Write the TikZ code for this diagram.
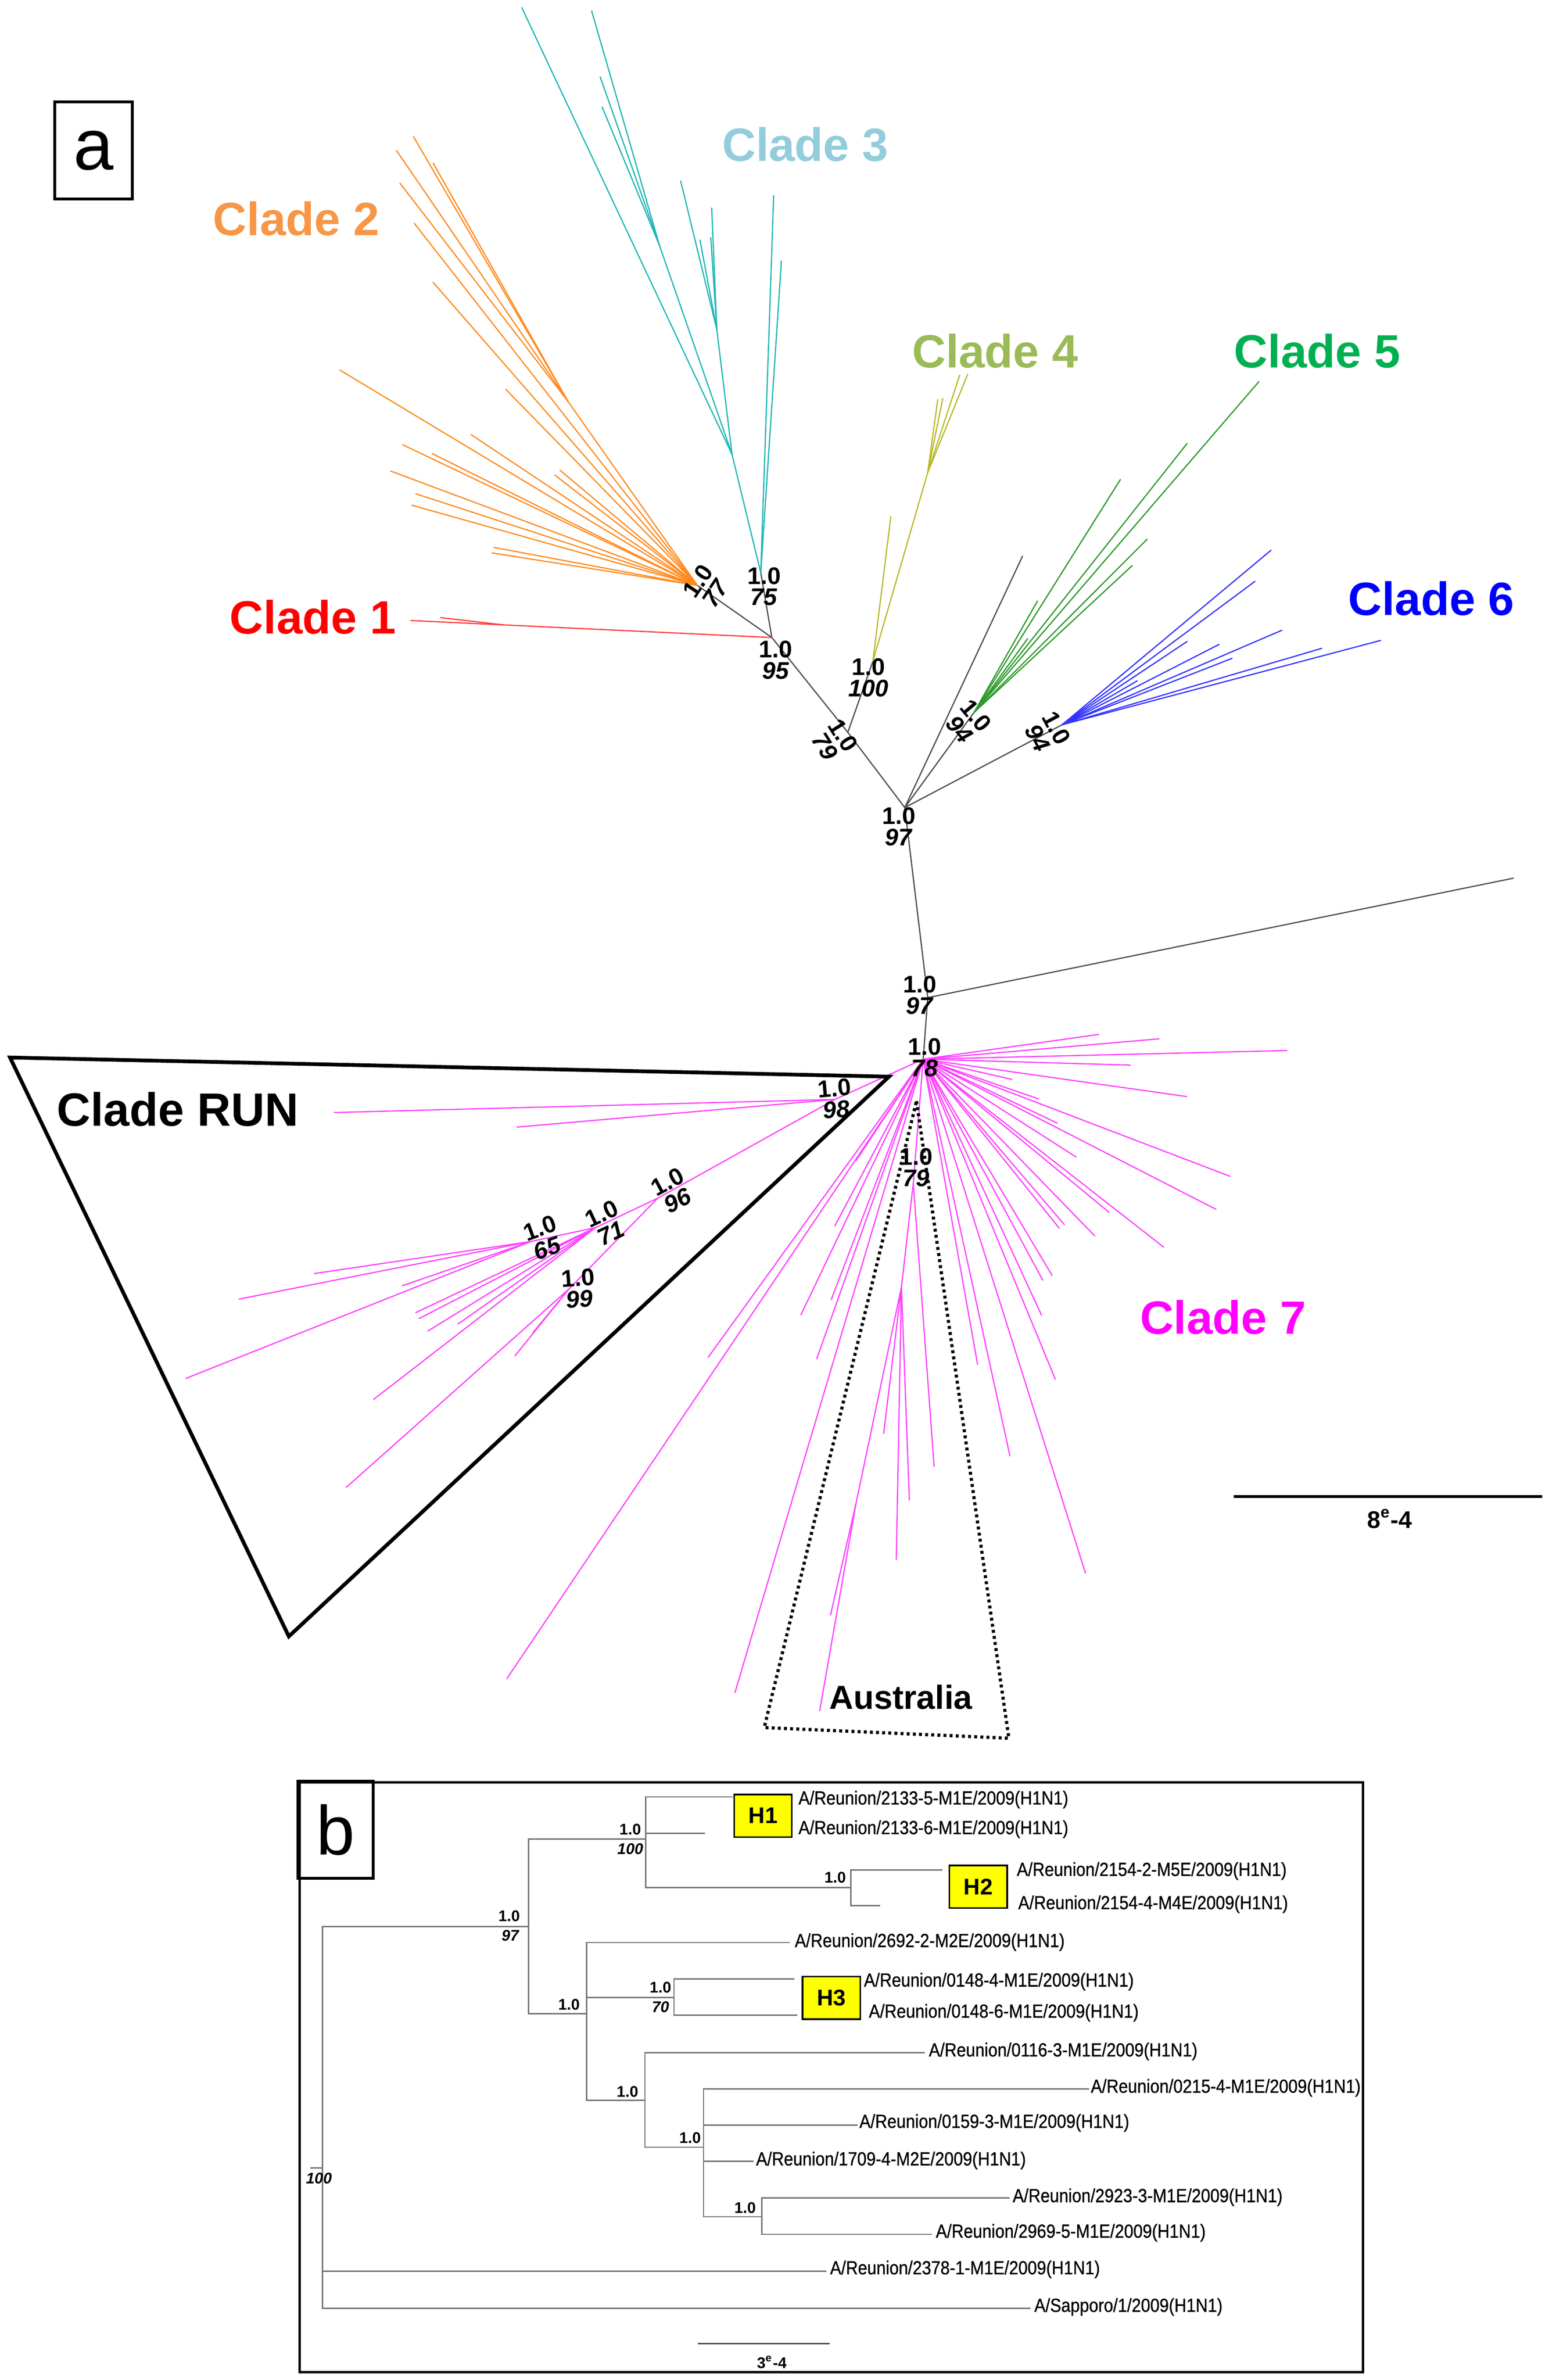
\documentclass[tikz,border=0pt]{standalone}
\usepackage{fontspec}
\setmainfont{Liberation Sans}
\newfontfamily\narrowsf[FakeStretch=0.88, FakeBold=0.8]{Liberation Sans}
\usepackage{xcolor}
\usepackage{tikz}
\usetikzlibrary{positioning, calc}

\definecolor{cladeone}{HTML}{FF0000}
\definecolor{lineone}{HTML}{FF3C3C}
\definecolor{cladetwo}{HTML}{F79646}
\definecolor{linetwo}{HTML}{FF8A1E}
\definecolor{cladethree}{HTML}{92CDDC}
\definecolor{linethree}{HTML}{1FB6B6}
\definecolor{cladefour}{HTML}{9BBB59}
\definecolor{linefour}{HTML}{B8B82A}
\definecolor{cladefive}{HTML}{00B050}
\definecolor{linefive}{HTML}{2A9A2A}
\definecolor{cladesix}{HTML}{0000FF}
\definecolor{linesix}{HTML}{3434FF}
\definecolor{cladeseven}{HTML}{FF00FF}
\definecolor{lineseven}{HTML}{FF40FF}
\definecolor{hapyellow}{HTML}{FFFF00}

\begin{document}
\begin{tikzpicture}[x=0.2mm, y=-0.2mm,
    twig/.style={line width=0.45pt, line cap=round},
    greyline/.style={twig, draw=black!70},
    cladename/.style={font=\fontsize{17.5}{20}\selectfont\bfseries, inner sep=0pt},
    support/.style={font=\fontsize{9}{8}\selectfont\bfseries, align=center, inner sep=0pt},
    runbox/.style={line width=1.4pt, line join=miter},
    ausbox/.style={line width=1.2pt, dash pattern=on 1.1pt off 1.2pt},
    panelbox/.style={draw, line width=1pt, inner sep=0pt},
    bline/.style={line width=0.5pt, draw=black!55},
    taxon/.style={font=\narrowsf\fontsize{7.1}{8}\selectfont, anchor=west, inner sep=0pt},
    bsupport/.style={font=\fontsize{5.8}{6}\selectfont\bfseries, inner sep=0pt},
    hapbox/.style={draw, fill=hapyellow, line width=0.6pt, minimum width=7.6mm, minimum height=5.6mm, inner sep=0pt, font=\fontsize{8.5}{9}\selectfont\bfseries}]
\useasboundingbox (0,0) rectangle (1024,1566.4);

% panel a
\node[panelbox, minimum width=10.2mm, minimum height=12.8mm, font=\fontsize{27}{27}\selectfont] (panela) at (61.5,99) {a};

\coordinate (nc2) at (459,385.3);
\coordinate (nc3) at (500.7,377);
\coordinate (n95) at (508,419.6);
\coordinate (nt79) at (558,482);
\coordinate (nc4) at (574.5,435.2);
\coordinate (n97a) at (595.5,531.5);
\coordinate (nc5) at (641,469);
\coordinate (nc6) at (699,477);
\coordinate (n97b) at (610.6,656.6);
\coordinate (n78) at (607.6,697.1);
\coordinate (g1) at (673,366);
\coordinate (g2) at (996,578);

\draw[greyline] (nc2) -- (n95) -- (nt79) -- (n97a) -- (n97b) -- (n78);
\draw[greyline] (n95) -- (nc3);
\draw[greyline] (nt79) -- (nc4);
\draw[greyline] (n97a) -- (g1);
\draw[greyline] (n97a) -- (nc5);
\draw[greyline] (n97a) -- (nc6);
\draw[greyline] (n97b) -- (g2);

% clade 1
\coordinate (c1a) at (270.4,408.4);
\coordinate (c1m) at (331.6,411.3);
\coordinate (c1b) at (290,406.5);
\draw[twig, lineone] (n95) -- (c1a);
\draw[twig, lineone] (c1m) -- (c1b);

% clade 2
\coordinate (c2i) at (373.9,264.3);
\draw[twig, linetwo] (nc2) -- (c2i);
\foreach \tx/\ty [count=\i] in {272.1/89.9, 261/99.1, 285.1/107.4, 263.2/120.5}
  {\coordinate (c2u\i) at (\tx,\ty); \draw[twig, linetwo] (c2i) -- (c2u\i);}
\foreach \tx/\ty [count=\i] in {272.6/146.9, 285.1/185.9, 223.6/243.5, 332.9/256.3, 310/286, 265/292.7, 284.4/298.5, 257/310, 368.5/309.4, 365.2/312.7, 273.7/325, 271/332.5, 325.1/360.3, 323.8/363.9}
  {\coordinate (c2t\i) at (\tx,\ty); \draw[twig, linetwo] (nc2) -- (c2t\i);}

% clade 3
\coordinate (c3i) at (481.8,299.1);
\coordinate (c3j) at (434,161.4);
\coordinate (c3k) at (471.8,217);
\draw[twig, linethree] (nc3) -- (c3i) -- (343.4,5);
\draw[twig, linethree] (c3i) -- (c3j);
\draw[twig, linethree] (c3i) -- (c3k);
\foreach \tx/\ty [count=\i] in {389.4/7.2, 395/50.6, 396.3/70.4}
  {\coordinate (c3u\i) at (\tx,\ty); \draw[twig, linethree] (c3j) -- (c3u\i);}
\foreach \tx/\ty [count=\i] in {448/119.1, 460.7/158, 468.4/136.9, 467.8/156.4}
  {\coordinate (c3v\i) at (\tx,\ty); \draw[twig, linethree] (c3k) -- (c3v\i);}
\foreach \tx/\ty [count=\i] in {509.2/128.8, 514.3/171.7}
  {\coordinate (c3t\i) at (\tx,\ty); \draw[twig, linethree] (nc3) -- (c3t\i);}

% clade 4
\coordinate (c4i) at (610.6,311);
\draw[twig, linefour] (nc4) -- (c4i);
\draw[twig, linefour] (nc4) -- (586.3,340);
\foreach \tx/\ty [count=\i] in {636.9/246.3, 631.6/247, 620.5/262.2, 617.2/263}
  {\coordinate (c4t\i) at (\tx,\ty); \draw[twig, linefour] (c4i) -- (c4t\i);}

% clade 5
\foreach \tx/\ty [count=\i] in {828.6/251.1, 781.3/291.9, 737.4/315.6, 755.1/354.8, 745.2/372.2, 682.8/395.6, 676.3/420.4}
  {\coordinate (c5t\i) at (\tx,\ty); \draw[twig, linefive] (nc5) -- (c5t\i);}

% clade 6
\foreach \tx/\ty [count=\i] in {836.5/362.2, 826/382.6, 802.4/424.1, 843.7/414.8, 870/426.7, 908.7/421.5, 810.9/433.3, 748.5/448.1, 781.3/422.2}
  {\coordinate (c6t\i) at (\tx,\ty); \draw[twig, linesix] (nc6) -- (c6t\i);}

% clade 7
\foreach \tx/\ty [count=\i] in {723.1/680.8, 762.9/683.7, 847/691.4, 743.9/701, 666/710.4, 781/721.7, 683.4/723.2, 695.9/739.2, 809.6/774.2, 708.3/761.5, 800.3/795.9, 730.1/798, 765.9/820.8, 720.5/813.4, 700.5/806, 697.2/808.4, 692.5/839.5, 686.3/842.5, 685.5/865.6, 694.6/907.8, 714.4/1035.3, 664.7/958.2, 643.4/898, 563.4/763.9, 549.4/806.9, 527.1/865.4, 547.1/855.3, 537.5/894.4, 466.1/893.3, 333.6/1104.8, 483.7/1114}
  {\coordinate (c7t\i) at (\tx,\ty); \draw[twig, lineseven] (n78) -- (c7t\i);}

\coordinate (n79) at (601.1,778.7);
\coordinate (au1) at (593.3,847);
\coordinate (au2) at (563.4,989.4);
\draw[twig, lineseven] (n78) -- (n79) -- (au1) -- (au2) -- (539.5,1125.9);
\draw[twig, lineseven] (au2) -- (546.6,1063);
\draw[twig, lineseven] (n79) -- (614.8,965.1);
\foreach \tx/\ty [count=\i] in {581.6/943.4, 589.9/1026.5, 598.5/987.3}
  {\coordinate (aut\i) at (\tx,\ty); \draw[twig, lineseven] (au1) -- (aut\i);}

\coordinate (n98) at (549.5,723.6);
\coordinate (n96) at (432.9,788.6);
\coordinate (n71) at (391.9,808);
\coordinate (n65) at (349.3,817.1);
\coordinate (n99) at (374.5,848.3);
\draw[twig, lineseven] (n78) -- (n98) -- (n96) -- (n71) -- (n65);
\draw[twig, lineseven] (n96) -- (n99);
\foreach \tx/\ty [count=\i] in {220/732.2, 340.2/741.8}
  {\coordinate (r98t\i) at (\tx,\ty); \draw[twig, lineseven] (n98) -- (r98t\i);}
\foreach \tx/\ty [count=\i] in {273.6/863.9, 275.8/867.8, 281.5/876.1, 301.4/871.4, 245.9/921}
  {\coordinate (r71t\i) at (\tx,\ty); \draw[twig, lineseven] (n71) -- (r71t\i);}
\foreach \tx/\ty [count=\i] in {206.8/838.2, 157.3/855, 264.8/846.2, 122.3/907.2}
  {\coordinate (r65t\i) at (\tx,\ty); \draw[twig, lineseven] (n65) -- (r65t\i);}
\foreach \tx/\ty [count=\i] in {227.9/978.9, 338.9/892.4, 350.9/876.9}
  {\coordinate (r99t\i) at (\tx,\ty); \draw[twig, lineseven] (n99) -- (r99t\i);}

% outlines
\draw[runbox] (6.6,696) -- (585.1,708.6) -- (190.1,1077) -- cycle;
\draw[ausbox] (603.2,724.7) -- (664,1144) -- (503,1137) -- cycle;

% clade names
\node[cladename, text=cladeone] (lab1) at (206,406) {Clade 1};
\node[cladename, text=cladetwo] (lab2) at (195,144) {Clade 2};
\node[cladename, text=cladethree] (lab3) at (530,95) {Clade 3};
\node[cladename, text=cladefour] (lab4) at (655,231) {Clade 4};
\node[cladename, text=cladefive] (lab5) at (867,231) {Clade 5};
\node[cladename, text=cladesix] (lab6) at (942,394) {Clade 6};
\node[cladename, text=cladeseven] (lab7) at (805,867) {Clade 7};
\node[cladename] (labrun) at (117,730) {Clade RUN};
\node[font=\fontsize{12.5}{14}\selectfont\bfseries, inner sep=0pt] (labaus) at (593,1117) {Australia};

% supports
\node[support, rotate=56] (s77) at (465,386.3) {1.0\\\textit{77}};
\node[support] (s75) at (502.9,386) {1.0\\\textit{75}};
\node[support] (s95) at (510.5,434.5) {1.0\\\textit{95}};
\node[support] (s100) at (571.5,446) {1.0\\\textit{100}};
\node[support, rotate=-58] (s79a) at (548.9,487.6) {1.0\\\textit{79}};
\node[support, rotate=-50] (s94a) at (637,475.5) {1.0\\\textit{94}};
\node[support, rotate=-62] (s94b) at (689,482.3) {1.0\\\textit{94}};
\node[support] (s97a) at (591.5,544) {1.0\\\textit{97}};
\node[support] (s97b) at (605.5,655) {1.0\\\textit{97}};
\node[support] (s78) at (608.6,696) {1.0\\\textit{78}};
\node[support, rotate=5] (s98) at (549.8,723.2) {1.0\\\textit{98}};
\node[support] (s79b) at (602.8,768.3) {1.0\\\textit{79}};
\node[support, rotate=28] (s96) at (442.6,783.9) {1.0\\\textit{96}};
\node[support, rotate=25] (s71) at (399,805.1) {1.0\\\textit{71}};
\node[support, rotate=20] (s65) at (357.7,814.8) {1.0\\\textit{65}};
\node[support, rotate=4] (s99) at (381,848) {1.0\\\textit{99}};

% scale a
\coordinate (sa1) at (812,985);
\coordinate (sa2) at (1015,985);
\draw[line width=1.1pt] (sa1) -- (sa2);
\node[font=\fontsize{9}{10}\selectfont\bfseries, inner sep=0pt] (scalea) at (914.6,999.5) {8\textsuperscript{e}-4};

% panel b
\draw[line width=0.9pt] (197.3,1173.1) rectangle (897,1561.2);
\node[panelbox, line width=1.1pt, minimum width=9.9mm, minimum height=12.8mm, font=\fontsize{26}{26}\selectfont] (panelb) at (220.8,1204.2) {b};

\coordinate (broot) at (212.2,1426.8);
\coordinate (bA) at (348,1267.9);
\coordinate (bB) at (425,1210.3);
\coordinate (bC) at (559.9,1242.2);
\coordinate (bD) at (386.1,1325.3);
\coordinate (bE) at (443.6,1314.7);
\coordinate (bF) at (424.5,1382.3);
\coordinate (bG) at (463,1413.2);
\coordinate (bH) at (501.5,1458.9);

\coordinate (t21335) at (482,1182.6);
\coordinate (t21336) at (464,1206.5);
\coordinate (t21542) at (620.2,1230.7);
\coordinate (t21544) at (579.4,1254.3);
\coordinate (t26922) at (519.6,1278.5);
\coordinate (t01484) at (522.8,1302.4);
\coordinate (t01486) at (524.7,1326.3);
\coordinate (t01163) at (608.6,1351);
\coordinate (t02154) at (716.7,1374.9);
\coordinate (t01593) at (564.6,1398.5);
\coordinate (t17094) at (496,1422.4);
\coordinate (t29233) at (664.3,1446.6);
\coordinate (t29695) at (613.3,1470.5);
\coordinate (t23781) at (543.7,1494.9);
\coordinate (tsap) at (678.2,1519.3);

\draw[bline] (broot) |- (bA);
\draw[bline] (broot) |- (t23781);
\draw[bline] (broot) |- (tsap);
\draw[bline] (bA) |- (bB);
\draw[bline] (bA) |- (bD);
\draw[bline] (bB) |- (t21335);
\draw[bline] (bB) |- (t21336);
\draw[bline] (bB) |- (bC);
\draw[bline] (bC) |- (t21542);
\draw[bline] (bC) |- (t21544);
\draw[bline] (bD) |- (t26922);
\draw[bline] (bD) |- (bE);
\draw[bline] (bD) |- (bF);
\draw[bline] (bE) |- (t01484);
\draw[bline] (bE) |- (t01486);
\draw[bline] (bF) |- (t01163);
\draw[bline] (bF) |- (bG);
\draw[bline] (bG) |- (t02154);
\draw[bline] (bG) |- (t01593);
\draw[bline] (bG) |- (t17094);
\draw[bline] (bG) |- (bH);
\draw[bline] (bH) |- (t29233);
\draw[bline] (bH) |- (t29695);
\draw[bline] (204.3,1426.8) -- (broot);

\node[hapbox] (h1) at (502.2,1195) {H1};
\node[hapbox] (h2) at (643.9,1241.7) {H2};
\node[hapbox] (h3) at (547.2,1314.9) {H3};

\node[taxon] (l21335) at (525.2,1184.4) {A/Reunion/2133-5-M1E/2009(H1N1)};
\node[taxon] (l21336) at (525.2,1203.9) {A/Reunion/2133-6-M1E/2009(H1N1)};
\node[taxon] (l21542) at (668.9,1231.4) {A/Reunion/2154-2-M5E/2009(H1N1)};
\node[taxon] (l21544) at (669.8,1253.3) {A/Reunion/2154-4-M4E/2009(H1N1)};
\node[taxon] (l26922) at (522.8,1278.2) {A/Reunion/2692-2-M2E/2009(H1N1)};
\node[taxon] (l01484) at (568.3,1304.2) {A/Reunion/0148-4-M1E/2009(H1N1)};
\node[taxon] (l01486) at (571.5,1324.7) {A/Reunion/0148-6-M1E/2009(H1N1)};
\node[taxon] (l01163) at (611,1350.2) {A/Reunion/0116-3-M1E/2009(H1N1)};
\node[taxon] (l02154) at (717.6,1374.1) {A/Reunion/0215-4-M1E/2009(H1N1)};
\node[taxon] (l01593) at (565.3,1397.2) {A/Reunion/0159-3-M1E/2009(H1N1)};
\node[taxon] (l17094) at (497.3,1421.9) {A/Reunion/1709-4-M2E/2009(H1N1)};
\node[taxon] (l29233) at (666.2,1446.1) {A/Reunion/2923-3-M1E/2009(H1N1)};
\node[taxon] (l29695) at (615.6,1469.5) {A/Reunion/2969-5-M1E/2009(H1N1)};
\node[taxon] (l23781) at (546,1493.6) {A/Reunion/2378-1-M1E/2009(H1N1)};
\node[taxon] (lsap) at (680.4,1518.3) {A/Sapporo/1/2009(H1N1)};

\node[bsupport] (bs1) at (335.1,1261) {1.0};
\node[bsupport] (bs2) at (336,1273.8) {\textit{97}};
\node[bsupport] (bs3) at (414.8,1203.9) {1.0};
\node[bsupport] (bs4) at (414.8,1216.8) {\textit{100}};
\node[bsupport] (bs5) at (549.7,1235.8) {1.0};
\node[bsupport] (bs6) at (374.5,1319.3) {1.0};
\node[bsupport] (bs7) at (434.7,1308) {1.0};
\node[bsupport] (bs8) at (434.7,1320.9) {\textit{70}};
\node[bsupport] (bs9) at (413,1376.7) {1.0};
\node[bsupport] (bs10) at (454.2,1407) {1.0};
\node[bsupport] (bs11) at (490.4,1453) {1.0};
\node[bsupport] (bs12) at (209.9,1433.7) {\textit{100}};

% scale b
\coordinate (sb1) at (459.3,1542.5);
\coordinate (sb2) at (546,1542.5);
\draw[line width=0.6pt, black!70] (sb1) -- (sb2);
\node[bsupport] (scaleb) at (508,1554.6) {3\textsuperscript{e}-4};
\end{tikzpicture}
\end{document}
